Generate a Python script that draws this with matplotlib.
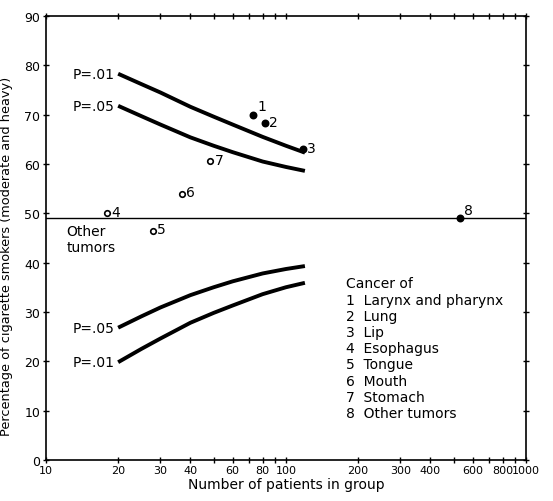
import matplotlib
matplotlib.use("Agg")
import matplotlib.pyplot as plt
from matplotlib.ticker import FixedLocator, NullFormatter, FixedFormatter

# ---- data ----
curve_n = [20, 25, 30, 40, 50, 60, 80, 100, 120]
upper_p01 = [78.3, 76.2, 74.5, 71.6, 69.6, 68.0, 65.5, 63.7, 62.3]
upper_p05 = [71.8, 69.7, 68.0, 65.4, 63.7, 62.4, 60.5, 59.4, 58.6]
lower_p05 = [26.8, 29.1, 30.9, 33.4, 35.0, 36.2, 37.8, 38.7, 39.3]
lower_p01 = [19.8, 22.5, 24.6, 27.8, 29.8, 31.3, 33.6, 35.0, 35.9]

point_ids = ["1", "2", "3", "4", "5", "6", "7", "8"]
point_n = [73, 82, 118, 18, 28, 37, 48.5, 530]
point_pct = [70.0, 68.3, 63.0, 50.0, 46.5, 54.0, 60.6, 49.0]
point_filled = [True, True, True, False, False, False, False, True]

reference_pct = 49.0

legend_title = "Cancer of"
legend_items = ["Larynx and pharynx", "Lung", "Lip", "Esophagus",
                "Tongue", "Mouth", "Stomach", "Other tumors"]

xtick_labels_vals = [10, 20, 30, 40, 60, 80, 100, 200, 300, 400, 600, 800, 1000]
ytick_vals = [0, 10, 20, 30, 40, 50, 60, 70, 80, 90]

# ---- figure ----
fig = plt.figure(figsize=(5.53, 5.02), dpi=100)
ax = fig.add_axes([0.083, 0.082, 0.868, 0.884])
ax.set_xscale("log")
ax.set_xlim(10, 1000)
ax.set_ylim(0, 90)

lw = 2.8
for ys in (upper_p01, upper_p05, lower_p05, lower_p01):
    ax.plot(curve_n, ys, color="black", lw=lw, solid_capstyle="butt",
            solid_joinstyle="round")

ax.axhline(reference_pct, color="black", lw=1.0)

fs = 10
ax.text(19.3, upper_p01[0], "P=.01", ha="right", va="center", fontsize=fs)
ax.text(19.3, upper_p05[0], "P=.05", ha="right", va="center", fontsize=fs)
ax.text(19.3, lower_p05[0], "P=.05", ha="right", va="center", fontsize=fs)
ax.text(19.3, lower_p01[0], "P=.01", ha="right", va="center", fontsize=fs)

for pid, n, p, filled in zip(point_ids, point_n, point_pct, point_filled):
    ax.plot(n, p, marker="o", markersize=4.5 if filled else 4,
            markerfacecolor="black" if filled else "white",
            markeredgecolor="black", markeredgewidth=1.2, zorder=5)
    ax.annotate(pid, (n, p), xytext=(3, 1), textcoords="offset points",
                ha="left", va="bottom" if pid in ("1", "8") else "center",
                fontsize=fs)

ax.text(12.2, 44.8, "Other\ntumors", ha="left", va="center", fontsize=fs,
        linespacing=1.15)

lines = [legend_title] + [f"{i + 1}  {t}" for i, t in enumerate(legend_items)]
ax.text(178, 37.2, "\n".join(lines), ha="left", va="top", fontsize=fs,
        linespacing=1.2)

# ticks
minor = [v * m for v in (10, 100) for m in range(2, 10)]
ax.xaxis.set_major_locator(FixedLocator(xtick_labels_vals))
ax.xaxis.set_major_formatter(FixedFormatter([str(v) for v in xtick_labels_vals]))
ax.xaxis.set_minor_locator(FixedLocator(minor))
ax.xaxis.set_minor_formatter(NullFormatter())
ax.set_yticks(ytick_vals)
ax.tick_params(axis="both", which="both", direction="inout", length=4,
               width=1, labelsize=9, top=True, right=True, pad=2)
ax.tick_params(axis="x", labelsize=8)
ax.tick_params(axis="y", labelright=False)

for s in ax.spines.values():
    s.set_linewidth(1.2)

ax.set_xlabel("Number of patients in group", fontsize=10, labelpad=1)
ax.set_ylabel("Percentage of cigarette smokers (moderate and heavy)",
              fontsize=9.3, labelpad=2)
ax.yaxis.set_label_coords(-0.068, 0.46)

fig.savefig("out.png", dpi=100)
